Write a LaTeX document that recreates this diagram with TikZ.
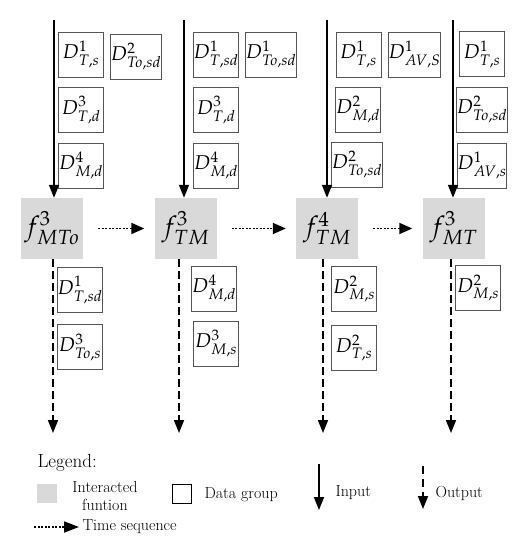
\documentclass[tikz,border=0pt]{standalone}
\usepackage{amsmath}
\usepackage{mathpazo}
\usepackage{tikz}
\usetikzlibrary{positioning,arrows.meta}
\usepackage{xcolor}
\definecolor{fungray}{HTML}{D9D9D9}
\definecolor{boxline}{HTML}{555555}

\begin{document}
\begin{tikzpicture}[x=1pt,y=-1pt,
    func/.style={fill=fungray,minimum width=62pt,minimum height=61pt,inner sep=0pt,font=\fontsize{27}{29}\selectfont},
    data/.style={draw=boxline,line width=0.8pt,minimum size=45pt,inner sep=0pt,font=\fontsize{20}{22}\selectfont},
    inarrow/.style={line width=1.6pt,-{Triangle[length=13pt,width=10pt]}},
    outarrow/.style={line width=1.6pt,dash pattern=on 8pt off 4pt,-{Triangle[length=13pt,width=10pt]}},
    timearrow/.style={line width=1.8pt,dash pattern=on 2pt off 1.5pt,-{Triangle[length=13pt,width=11pt]},shorten <=15pt,shorten >=10pt},
    legtext/.style={font=\fontsize{16}{17.5}\selectfont,anchor=west}]
  \useasboundingbox (0,0) rectangle (528,550);
        % interacted functions
        \node[func] (f1) at (52,228.5) {$f^{3}_{MTo}$};
        \node[func] (f2) at (185.5,228.5) {$f^{3}_{TM}$};
        \node[func] (f3) at (327,228.5) {$f^{4}_{TM}$};
        \node[func] (f4) at (453.5,228.5) {$f^{3}_{MT}$};
        % input data groups
        \node[data] (d11) at (81,54.5) {$D^{1}_{T,s}$};
        \node[data] (d12) at (136,56.5) {$D^{2}_{To,sd}$};
        \node[data] (d13) at (81,110) {$D^{3}_{T,d}$};
        \node[data] (d14) at (81,165.5) {$D^{4}_{M,d}$};
        \node[data] (d21) at (216,54.5) {$D^{1}_{T,sd}$};
        \node[data] (d22) at (271,54.5) {$D^{1}_{To,sd}$};
        \node[data] (d23) at (216,110) {$D^{3}_{T,d}$};
        \node[data] (d24) at (216,165.5) {$D^{4}_{M,d}$};
        \node[data] (d31) at (358.5,54.5) {$D^{1}_{T,s}$};
        \node[data] (d32) at (414.5,54.5) {$D^{1}_{AV,S}$};
        \node[data] (d33) at (358,109.5) {$D^{2}_{M,d}$};
        \node[data] (d34) at (357,164.5) {$D^{2}_{To,sd}$};
        \node[data] (d41) at (482,54) {$D^{1}_{T,s}$};
        \node[data] (d42) at (482,109.5) {$D^{2}_{To,sd}$};
        \node[data] (d43) at (482,165.5) {$D^{1}_{AV,s}$};
        % output data groups
        \node[data] (o11) at (80,290) {$D^{1}_{T,sd}$};
        \node[data] (o12) at (80,347) {$D^{3}_{To,s}$};
        \node[data] (o21) at (214,288.5) {$D^{4}_{M,d}$};
        \node[data] (o22) at (216,343.5) {$D^{3}_{M,s}$};
        \node[data] (o31) at (354,289) {$D^{2}_{M,s}$};
        \node[data] (o32) at (354,348) {$D^{2}_{T,s}$};
        \node[data] (o41) at (478,288) {$D^{2}_{M,s}$};
        % arrow ends
        \coordinate (in1) at (54,20);
        \coordinate (in2) at (184,20);
        \coordinate (in3) at (327,20);
        \coordinate (in4) at (453,20);
        \coordinate (out1) at (53,433);
        \coordinate (out2) at (179,433);
        \coordinate (out3) at (323,433);
        \coordinate (out4) at (451,433);
        \draw[inarrow] (in1) -- (in1 |- f1.north);
        \draw[inarrow] (in2) -- (in2 |- f2.north);
        \draw[inarrow] (in3) -- (in3 |- f3.north);
        \draw[inarrow] (in4) -- (in4 |- f4.north);
        \draw[outarrow] (out1 |- f1.south) -- (out1);
        \draw[outarrow] (out2 |- f2.south) -- (out2);
        \draw[outarrow] (out3 |- f3.south) -- (out3);
        \draw[outarrow] (out4 |- f4.south) -- (out4);
        \draw[timearrow] (f1) -- (f2);
        \draw[timearrow] (f2) -- (f3);
        \draw[timearrow] (f3) -- (f4);
        % legend
        \node[legtext,font=\fontsize{19}{21}\selectfont] (leg) at (34,463) {Legend:};
        \node[fill=fungray,minimum width=20pt,minimum height=19pt,inner sep=0pt] (lgf) at (47,493.5) {};
        \node[legtext,anchor=center,align=center] (lgft) at (105,496) {Interacted\\funtion};
        \node[draw=black,line width=0.8pt,minimum size=19pt,inner sep=0pt] (lgd) at (182,493.5) {};
        \node[legtext] (lgdt) at (201,495) {Data group};
        \coordinate (lgi1) at (319,464);
        \coordinate (lgi2) at (319,510);
        \draw[inarrow] (lgi1) -- (lgi2);
        \node[legtext] (lgit) at (332,493) {Input};
        \coordinate (lgo1) at (423,466);
        \coordinate (lgo2) at (423,509);
        \draw[line width=1.6pt,dash pattern=on 8pt off 5pt,-{Triangle[length=13pt,width=10pt]}] (lgo1) -- (lgo2);
        \node[legtext] (lgot) at (432,493) {Output};
        \coordinate (lgt1) at (34,527);
        \node[legtext] (lgtt) at (79,527) {Time sequence};
        \draw[line width=1.8pt,dash pattern=on 2pt off 1.5pt,-{Triangle[length=15pt,width=11pt]}] (lgt1) -- (lgtt.west);
\end{tikzpicture}
\end{document}
